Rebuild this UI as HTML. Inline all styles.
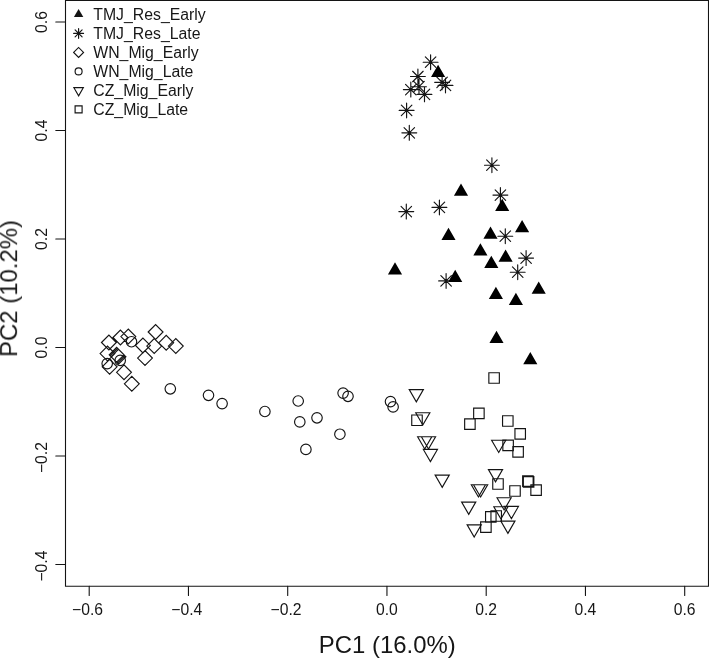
<!DOCTYPE html>
<html lang="en"><head><meta charset="utf-8"><title>PCA plot</title>
<style>html,body{margin:0;padding:0;background:#fff;}body{width:709px;height:658px;overflow:hidden;}svg{display:block;}</style>
</head><body>
<svg width="709" height="658" viewBox="0 0 709 658">
<rect width="709" height="658" fill="#fff"/>
<g fill="none" stroke="#141414" stroke-width="1.1" stroke-linecap="round">
<path d="M65.5 0.5H708.5V586.2H65.5Z"/>
<path d="M89.2 586.2V595.4M188.45 586.2V595.4M287.7 586.2V595.4M386.95 586.2V595.4M486.2 586.2V595.4M585.45 586.2V595.4M684.7 586.2V595.4M65.5 22H55.8M65.5 130.5H55.8M65.5 239H55.8M65.5 347.5H55.8M65.5 456H55.8M65.5 564.5H55.8"/>
</g>
<g font-family="'Liberation Sans', Arial, sans-serif" fill="#141414" opacity="0.99">
<g font-size="15.7" text-anchor="middle">
<text x="87.6" y="614.9">−0.6</text>
<text x="186.85" y="614.9">−0.4</text>
<text x="286.1" y="614.9">−0.2</text>
<text x="386.95" y="614.9">0.0</text>
<text x="486.2" y="614.9">0.2</text>
<text x="585.45" y="614.9">0.4</text>
<text x="684.7" y="614.9">0.6</text>
<text transform="translate(47.3 22) rotate(-90)">0.6</text>
<text transform="translate(47.3 130.5) rotate(-90)">0.4</text>
<text transform="translate(47.3 239) rotate(-90)">0.2</text>
<text transform="translate(47.3 347.5) rotate(-90)">0.0</text>
<text transform="translate(47.3 457.6) rotate(-90)">−0.2</text>
<text transform="translate(47.3 566.1) rotate(-90)">−0.4</text>
</g>
<g font-size="23.4" text-anchor="middle">
<text x="387.3" y="652.5" textLength="136.9" lengthAdjust="spacingAndGlyphs">PC1 (16.0%)</text>
<text transform="translate(17.1 288.5) rotate(-90)" textLength="136.9" lengthAdjust="spacingAndGlyphs">PC2 (10.2%)</text>
</g>
<g font-size="15.8">
<text x="93.3" y="19.7">TMJ_Res_Early</text>
<text x="93.3" y="38.7">TMJ_Res_Late</text>
<text x="93.3" y="57.7">WN_Mig_Early</text>
<text x="93.3" y="76.7">WN_Mig_Late</text>
<text x="93.3" y="95.7">CZ_Mig_Early</text>
<text x="93.3" y="114.7">CZ_Mig_Late</text>
</g>
</g>
<path fill="#141414" d="M78.6 8.96L83.31 17.12L73.89 17.12Z"/>
<g fill="none" stroke="#141414" stroke-width="1.15" stroke-linecap="round" stroke-linejoin="miter">
<path d="M73.65 33.4H83.55M78.6 28.45V38.35M75.1 29.9L82.1 36.9M75.1 36.9L82.1 29.9M73.65 52.4L78.6 47.45L83.55 52.4L78.6 57.35ZM78.6 95.84L83.31 87.68L73.89 87.68ZM75.1 105.9H82.1V112.9H75.1Z"/>
<circle cx="78.6" cy="71.4" r="3.5" stroke-linejoin="round"/>
<path d="M423.18 62.2H438.02M430.6 54.78V69.62M425.35 56.95L435.85 67.45M425.35 67.45L435.85 56.95M410.48 76.5H425.32M417.9 69.08V83.92M412.65 71.25L423.15 81.75M412.65 81.75L423.15 71.25M411.58 86.7H426.42M419 79.28V94.12M413.75 81.45L424.25 91.95M413.75 91.95L424.25 81.45M403.38 89.6H418.22M410.8 82.18V97.02M405.55 84.35L416.05 94.85M405.55 94.85L416.05 84.35M417.08 94.3H431.92M424.5 86.88V101.72M419.25 89.05L429.75 99.55M419.25 99.55L429.75 89.05M434.68 82.3H449.52M442.1 74.88V89.72M436.85 77.05L447.35 87.55M436.85 87.55L447.35 77.05M438.08 85.4H452.92M445.5 77.98V92.82M440.25 80.15L450.75 90.65M440.25 90.65L450.75 80.15M399.18 110.4H414.02M406.6 102.98V117.82M401.35 105.15L411.85 115.65M401.35 115.65L411.85 105.15M401.88 132.8H416.72M409.3 125.38V140.22M404.05 127.55L414.55 138.05M404.05 138.05L414.55 127.55M398.88 211.6H413.72M406.3 204.18V219.02M401.05 206.35L411.55 216.85M401.05 216.85L411.55 206.35M431.98 207.4H446.82M439.4 199.98V214.82M434.15 202.15L444.65 212.65M434.15 212.65L444.65 202.15M484.48 165.2H499.32M491.9 157.78V172.62M486.65 159.95L497.15 170.45M486.65 170.45L497.15 159.95M492.98 195.1H507.82M500.4 187.68V202.52M495.15 189.85L505.65 200.35M495.15 200.35L505.65 189.85M497.88 236.2H512.72M505.3 228.78V243.62M500.05 230.95L510.55 241.45M500.05 241.45L510.55 230.95M518.68 258.1H533.52M526.1 250.68V265.52M520.85 252.85L531.35 263.35M520.85 263.35L531.35 252.85M510.28 272.2H525.12M517.7 264.78V279.62M512.45 266.95L522.95 277.45M512.45 277.45L522.95 266.95M438.68 280.9H453.52M446.1 273.48V288.32M440.85 275.65L451.35 286.15M440.85 286.15L451.35 275.65"/>
<path d="M168.38 346.1L175.8 338.68L183.22 346.1L175.8 353.52ZM148.18 332L155.6 324.58L163.02 332L155.6 339.42ZM158.78 342.8L166.2 335.38L173.62 342.8L166.2 350.22ZM146.78 346.1L154.2 338.68L161.62 346.1L154.2 353.52ZM135.48 345.4L142.9 337.98L150.32 345.4L142.9 352.82ZM137.58 358.1L145 350.68L152.42 358.1L145 365.52ZM120.88 336.6L128.3 329.18L135.72 336.6L128.3 344.02ZM112.98 337.5L120.4 330.08L127.82 337.5L120.4 344.92ZM101.48 342.5L108.9 335.08L116.32 342.5L108.9 349.92ZM100.08 353.6L107.5 346.18L114.92 353.6L107.5 361.02ZM109.18 354.8L116.6 347.38L124.02 354.8L116.6 362.22ZM102.18 366.8L109.6 359.38L117.02 366.8L109.6 374.22ZM116.58 372.3L124 364.88L131.42 372.3L124 379.72ZM124.38 383.8L131.8 376.38L139.22 383.8L131.8 391.22ZM110.08 355.7L117.5 348.28L124.92 355.7L117.5 363.12ZM111.08 356.7L118.5 349.28L125.92 356.7L118.5 364.12Z"/>
<path d="M416.3 401.86L423.37 389.62L409.23 389.62ZM422.8 424.96L429.87 412.72L415.73 412.72ZM424.7 448.96L431.77 436.72L417.63 436.72ZM428.5 448.96L435.57 436.72L421.43 436.72ZM430.4 461.66L437.47 449.42L423.33 449.42ZM442.2 487.36L449.27 475.12L435.13 475.12ZM498.7 452.46L505.77 440.22L491.63 440.22ZM495.5 481.86L502.57 469.62L488.43 469.62ZM478.4 496.96L485.47 484.72L471.33 484.72ZM480.6 496.96L487.67 484.72L473.53 484.72ZM468.7 514.36L475.77 502.12L461.63 502.12ZM504.1 509.96L511.17 497.72L497.03 497.72ZM500.9 518.96L507.97 506.72L493.83 506.72ZM511.4 518.66L518.47 506.42L504.33 506.42ZM474.2 537.06L481.27 524.82L467.13 524.82ZM507.9 533.36L514.97 521.12L500.83 521.12Z"/>
<path d="M488.85 372.75H499.35V383.25H488.85ZM411.75 414.95H422.25V425.45H411.75ZM473.65 408.15H484.15V418.65H473.65ZM464.65 418.85H475.15V429.35H464.65ZM502.55 415.75H513.05V426.25H502.55ZM514.95 428.65H525.45V439.15H514.95ZM502.85 440.05H513.35V450.55H502.85ZM512.85 446.55H523.35V457.05H512.85ZM492.75 478.75H503.25V489.25H492.75ZM522.65 475.85H533.15V486.35H522.65ZM523.35 476.55H533.85V487.05H523.35ZM509.75 485.75H520.25V496.25H509.75ZM530.85 484.85H541.35V495.35H530.85ZM485.55 511.65H496.05V522.15H485.55ZM490.95 510.75H501.45V521.25H490.95ZM480.65 521.85H491.15V532.35H480.65Z"/>
<circle cx="131.5" cy="341.7" r="5.25" stroke-linejoin="round"/>
<circle cx="107.2" cy="363.6" r="5.25" stroke-linejoin="round"/>
<circle cx="120.2" cy="360.4" r="5.25" stroke-linejoin="round"/>
<circle cx="170.3" cy="388.8" r="5.25" stroke-linejoin="round"/>
<circle cx="208.5" cy="395.3" r="5.25" stroke-linejoin="round"/>
<circle cx="222.1" cy="403.6" r="5.25" stroke-linejoin="round"/>
<circle cx="264.9" cy="411.5" r="5.25" stroke-linejoin="round"/>
<circle cx="298.2" cy="401" r="5.25" stroke-linejoin="round"/>
<circle cx="299.8" cy="421.9" r="5.25" stroke-linejoin="round"/>
<circle cx="317" cy="417.8" r="5.25" stroke-linejoin="round"/>
<circle cx="305.9" cy="449.4" r="5.25" stroke-linejoin="round"/>
<circle cx="339.9" cy="434.2" r="5.25" stroke-linejoin="round"/>
<circle cx="343.1" cy="393.1" r="5.25" stroke-linejoin="round"/>
<circle cx="348" cy="396.3" r="5.25" stroke-linejoin="round"/>
<circle cx="390.5" cy="401.6" r="5.25" stroke-linejoin="round"/>
<circle cx="393.1" cy="406.9" r="5.25" stroke-linejoin="round"/>
</g>
<path fill="#000" d="M438.1 64.84L445.17 77.08L431.03 77.08ZM461 183.54L468.07 195.78L453.93 195.78ZM448.5 227.64L455.57 239.88L441.43 239.88ZM502.2 198.74L509.27 210.98L495.13 210.98ZM522.1 220.04L529.17 232.28L515.03 232.28ZM490.5 226.54L497.57 238.78L483.43 238.78ZM480.4 243.34L487.47 255.58L473.33 255.58ZM395 262.34L402.07 274.58L387.93 274.58ZM455.2 269.64L462.27 281.88L448.13 281.88ZM505.6 249.54L512.67 261.78L498.53 261.78ZM491.3 255.64L498.37 267.88L484.23 267.88ZM538.7 281.44L545.77 293.68L531.63 293.68ZM495.9 286.64L502.97 298.88L488.83 298.88ZM515.9 292.84L522.97 305.08L508.83 305.08ZM496.5 330.64L503.57 342.88L489.43 342.88ZM530.3 352.04L537.37 364.28L523.23 364.28Z"/>
</svg>
</body></html>
